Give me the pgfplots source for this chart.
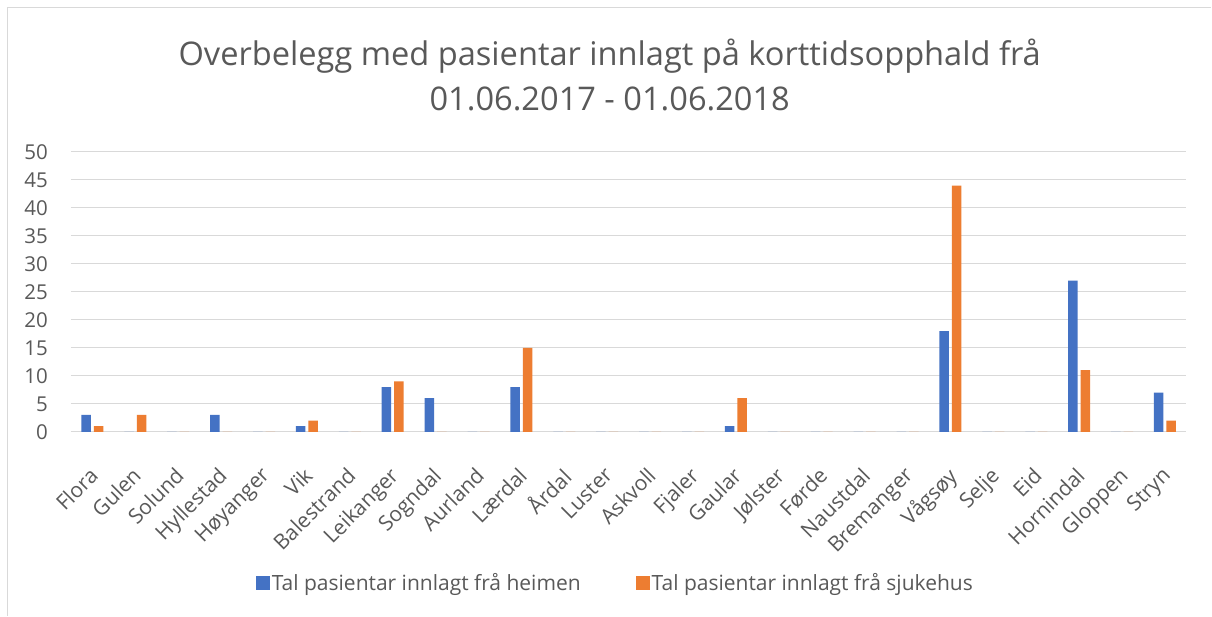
\documentclass[border=0pt]{standalone}
\usepackage{pgfplots}
\pgfplotsset{compat=1.18}
\usepackage{fontspec}
\setmainfont{Open Sans}
\definecolor{txt}{HTML}{595959}
\definecolor{grd}{HTML}{D9D9D9}
\definecolor{cblue}{HTML}{4472C4}
\definecolor{corange}{HTML}{ED7D31}
\pgfplotstableread{
x heim sjuk
0 3 1
1 0 3
2 0 0
3 3 0
4 0 0
5 1 2
6 0 0
7 8 9
8 6 0
9 0 0
10 8 15
11 0 0
12 0 0
13 0 0
14 0 0
15 1 6
16 0 0
17 0 0
18 0 0
19 0 0
20 18 44
21 0 0
22 0 0
23 27 11
24 0 0
25 7 2
}\datatable
\begin{document}
\begin{tikzpicture}
\path[fill=white] (0pt,0pt) rectangle (1212pt,616pt);
\draw[grd, line width=1.2pt] (7.5pt,0pt) -- (7.5pt,608.5pt) -- (1212pt,608.5pt);
\node[txt, font=\fontsize{32.6}{46}\selectfont, align=center] at (610pt,541pt) {Overbelegg med pasientar innlagt på korttidsopphald frå\\01.06.2017 - 01.06.2018};
\begin{axis}[
  at={(71pt,184pt)}, anchor=south west,
  scale only axis, width=1116pt, height=280pt,
  xmin=-0.5, xmax=25.5, ymin=0, ymax=50,
  ybar=3pt, bar width=9.5pt,
  axis line style={draw=none},
  ytick={0,5,...,50},
  ymajorgrids, grid style={grd, line width=1pt},
  major tick length=0pt,
  xtick={0,...,25},
  xticklabels={Flora,Gulen,Solund,Hyllestad,Høyanger,Vik,Balestrand,Leikanger,Sogndal,Aurland,Lærdal,Årdal,Luster,Askvoll,Fjaler,Gaular,Jølster,Førde,Naustdal,Bremanger,Vågsøy,Selje,Eid,Hornindal,Gloppen,Stryn},
  xticklabel style={rotate=45, anchor=north east, font=\fontsize{21}{24}\selectfont, text=txt, inner sep=0pt, xshift=-27pt, yshift=-21pt},
  yticklabel style={font=\fontsize{20.5}{24}\selectfont, text=txt, inner sep=0pt, xshift=-23pt},
  /pgf/number format/assume math mode=true,
  clip=false,
  legend style={at={(0.488,-0.54)}, anchor=center, draw=none, fill=none, font=\fontsize{21}{24}\selectfont, text=txt, legend columns=2, /tikz/every even column/.append style={column sep=53pt}, /tikz/every odd column/.append style={column sep=0pt}, legend cell align=left},
  legend image code/.code={\fill[#1] (0pt,-7pt) rectangle (14pt,7pt);},
]
\draw[grd, line width=1.2pt] (axis cs:-0.5,0) -- (axis cs:25.5,0);
\addplot[fill=cblue, draw=none] table[x=x, y=heim] {\datatable};
\addplot[fill=corange, draw=none] table[x=x, y=sjuk] {\datatable};
\legend{Tal pasientar innlagt frå heimen, Tal pasientar innlagt frå sjukehus}
\end{axis}
\end{tikzpicture}
\end{document}
